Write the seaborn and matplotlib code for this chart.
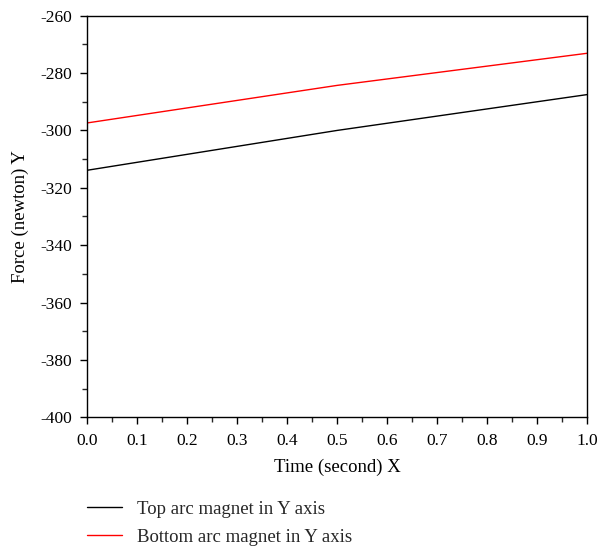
import matplotlib
matplotlib.use("Agg")
import matplotlib.pyplot as plt
from matplotlib.ticker import MultipleLocator, FormatStrFormatter
import seaborn as sns
import pandas as pd

# Force on each arc magnet along the Y axis over one second
time_s = [0.0, 0.5, 1.0]
top_force = [-313.9, -300.0, -287.5]
bottom_force = [-297.4, -284.3, -273.1]
series_names = ["Top arc magnet in Y axis", "Bottom arc magnet in Y axis"]
series_colors = ["black", "red"]

df = pd.concat([
    pd.DataFrame({"time": time_s, "force": top_force, "series": series_names[0]}),
    pd.DataFrame({"time": time_s, "force": bottom_force, "series": series_names[1]}),
])

sns.set_theme(style="ticks")
plt.rcParams["font.family"] = ["Liberation Serif", "DejaVu Serif"]
plt.rcParams["axes.unicode_minus"] = False
plt.rcParams["axes.linewidth"] = 1.0

fig = plt.figure(figsize=(6.01, 5.5), dpi=100)
ax = fig.add_axes([0.1448, 0.2413, 0.8324, 0.7302])

sns.lineplot(data=df, x="time", y="force", hue="series",
             palette=dict(zip(series_names, series_colors)),
             linewidth=1.0, ax=ax, legend=True)

ax.set_xlim(0.0, 1.0)
ax.set_ylim(-400, -260)
ax.xaxis.set_major_locator(MultipleLocator(0.1))
ax.xaxis.set_minor_locator(MultipleLocator(0.05))
ax.yaxis.set_major_locator(MultipleLocator(20))
ax.yaxis.set_minor_locator(MultipleLocator(10))
ax.xaxis.set_major_formatter(FormatStrFormatter("%.1f"))
ax.tick_params(axis="both", which="major", direction="out", length=5, width=1.0,
               labelsize=12.5, colors="black", pad=6)
ax.tick_params(axis="both", which="minor", direction="out", length=3.5, width=1.0)
ax.tick_params(top=False, right=False, which="both")
for s in ax.spines.values():
    s.set_color("black")
    s.set_linewidth(1.0)

ax.set_xlabel("Time (second) X", fontsize=13.5, color="black", labelpad=7)
ax.set_ylabel("Force (newton) Y", fontsize=13.5, color="black", labelpad=8)

handles, labels = ax.get_legend_handles_labels()
ax.legend(handles, labels, loc="upper left", bbox_to_anchor=(0.145, 0.09),
          bbox_transform=fig.transFigure, frameon=False, fontsize=13.5,
          handlelength=1.85, handletextpad=0.8, labelspacing=0.6,
          borderaxespad=0, borderpad=0)

fig.savefig("out.png", dpi=100)
